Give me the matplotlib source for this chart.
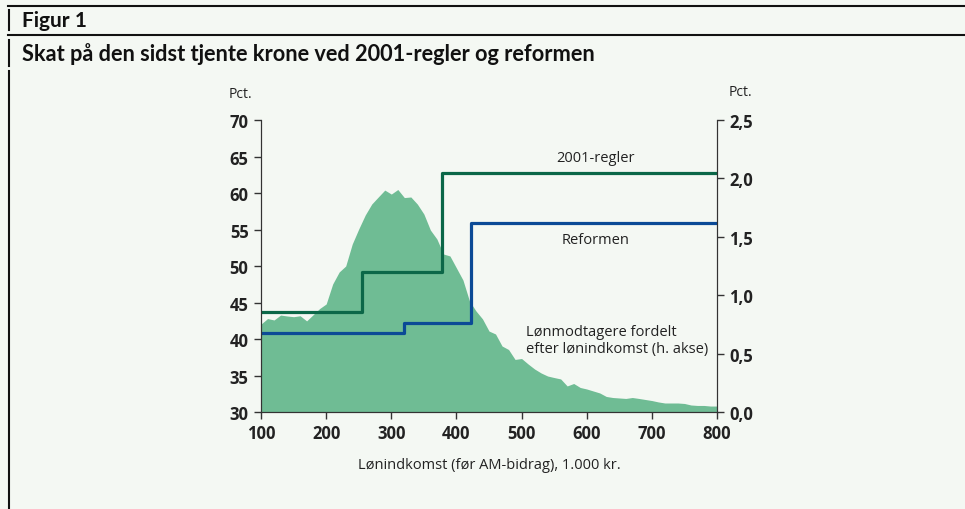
import numpy as np
import matplotlib.pyplot as plt
from matplotlib.lines import Line2D

# Lønindkomst, 1.000 kr.
indkomst = np.arange(100, 810, 10)
# Lønmodtagere fordelt efter lønindkomst, pct. (højre akse)
fordeling = [0.753, 0.80, 0.788, 0.83, 0.822, 0.816, 0.824, 0.78, 0.833, 0.886,
             0.925, 1.096, 1.199, 1.25, 1.438, 1.567, 1.687, 1.781, 1.841, 1.90,
             1.866, 1.905, 1.836, 1.841, 1.78, 1.695, 1.558, 1.481, 1.353, 1.336,
             1.233, 1.13, 0.95, 0.865, 0.797, 0.693, 0.668, 0.565, 0.535, 0.45,
             0.458, 0.411, 0.368, 0.334, 0.308, 0.295, 0.283, 0.223, 0.244, 0.21,
             0.197, 0.18, 0.163, 0.133, 0.124, 0.12, 0.116, 0.124, 0.116, 0.107,
             0.098, 0.086, 0.077, 0.077, 0.077, 0.073, 0.06, 0.056, 0.056, 0.051,
             0.051]

# Trappefunktioner: skat på den sidst tjente krone, pct.
regler2001_x = [100, 255, 378, 800]
regler2001_y = [43.7, 49.2, 62.8, 62.8]
reform_x = [100, 320, 422, 800]
reform_y = [40.8, 42.2, 55.9, 55.9]

bg = "#f4f8f3"
fill_col = "#6fbc94"
green = "#0b6748"
blue = "#0b4a96"
txt = "#222222"

plt.rcParams['font.family'] = ['Open Sans', 'DejaVu Sans']

fig = plt.figure(figsize=(9.65, 5.10), dpi=100, facecolor=bg)
ax2 = fig.add_axes([0.2705, 0.1902, 0.4725, 0.5725])
ax = ax2.twinx()

# fordelingen på højre akse
ax2.set_facecolor(bg)
ax2.fill_between(indkomst, fordeling, 0, color=fill_col, lw=0)
ax2.set_ylim(0, 2.5)
ax2.set_xlim(100, 800)

ax.step(regler2001_x, regler2001_y, where='post', color=green, lw=2.3)
ax.step(reform_x, reform_y, where='post', color=blue, lw=2.3)
ax.set_ylim(30, 70)
ax.set_xlim(100, 800)

# venstre akse viser pct. 30-70
ax.yaxis.tick_left()
ax2.yaxis.tick_right()
ax.set_yticks(np.arange(30, 71, 5))
ax2.set_yticks(np.arange(0, 2.51, 0.5))
ax2.set_yticklabels([f"{v:.1f}".replace('.', ',') for v in np.arange(0, 2.51, 0.5)])
ax2.set_xticks(np.arange(100, 801, 100))

for a in (ax, ax2):
    a.spines['top'].set_visible(False)
    a.tick_params(colors="#333333", labelcolor=txt, labelsize=12, length=5, width=1, pad=4)
    for s in ('left', 'right', 'bottom'):
        a.spines[s].set_color("#333333")
for lab in ax.get_yticklabels() + ax2.get_yticklabels() + ax2.get_xticklabels():
    lab.set_fontweight('bold')

ax2.text(614, 2.175, "2001-regler", ha='center', va='center', fontsize=10.5, color=txt)
ax2.text(614, 1.481, "Reformen", ha='center', va='center', fontsize=10.5, color=txt)
ax2.text(507, 0.615, "Lønmodtagere fordelt\nefter lønindkomst (h. akse)", ha='left', va='center',
         fontsize=10.5, color=txt, linespacing=1.2)

fig.text(240 / 965, 1 - 95 / 510, "Pct.", ha='center', va='center', fontsize=10, color=txt)
fig.text(740 / 965, 1 - 92 / 510, "Pct.", ha='center', va='center', fontsize=10, color=txt)
fig.text(489 / 965, 1 - 466 / 510, "Lønindkomst (før AM-bidrag), 1.000 kr.", ha='center', va='center',
         fontsize=10.5, color=txt)

# overskrift og rammelinjer
fig.text(22 / 965, 1 - 21 / 510, "Figur 1", ha='left', va='center', fontsize=15, fontweight='bold',
         color="#111111", family=['Lato', 'DejaVu Sans'])
fig.text(22 / 965, 1 - 54 / 510, "Skat på den sidst tjente krone ved 2001-regler og reformen", ha='left',
         va='center', fontsize=15.7, fontweight='bold', color="#111111",
         family=['Lato', 'DejaVu Sans'])
for y in (7, 36):
    fig.add_artist(Line2D([8 / 965, 1], [1 - y / 510] * 2, color="#111111", lw=1.5))
for y0, y1 in ((11, 31), (41, 67), (72, 510)):
    fig.add_artist(Line2D([8.5 / 965] * 2, [1 - y0 / 510, 1 - y1 / 510], color="#111111", lw=1.5))

fig.savefig("out.png", dpi=100, facecolor=bg)
